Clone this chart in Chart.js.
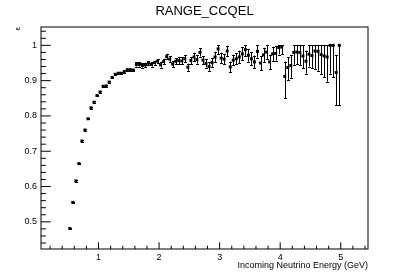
<!DOCTYPE html>
<html><head><meta charset="utf-8">
<script src="https://cdn.jsdelivr.net/npm/chart.js@4"></script>
<style>html,body{margin:0;padding:0;background:#fff;overflow:hidden}#wrap{width:409px;height:277px}</style>
</head><body><div id="wrap"><canvas id="c" width="409" height="277"></canvas></div>
<script>
const chartTitle = 'RANGE_CCQEL';
const xTitle = 'Incoming Neutrino Energy (GeV)';
const yTitle = 'ε';
const energies = [
 0.525,0.575,0.625,0.675,0.725,0.775,0.825,0.875,0.925,0.975,
 1.025,1.075,1.125,1.175,1.225,1.275,1.325,1.375,1.425,1.475,
 1.525,1.575,1.625,1.675,1.725,1.775,1.825,1.875,1.925,1.975,
 2.025,2.075,2.125,2.175,2.225,2.275,2.325,2.375,2.425,2.475,
 2.525,2.575,2.625,2.675,2.725,2.775,2.825,2.875,2.925,2.975,
 3.025,3.075,3.125,3.175,3.225,3.275,3.325,3.375,3.425,3.475,
 3.525,3.575,3.625,3.675,3.725,3.775,3.825,3.875,3.925,3.975,
 4.025,4.075,4.125,4.175,4.225,4.275,4.325,4.375,4.425,4.475,
 4.525,4.575,4.625,4.675,4.725,4.775,4.825,4.875,4.925,4.975];
const efficiency = [
 0.481,0.555,0.616,0.665,0.729,0.760,0.792,0.823,0.839,0.858,
 0.868,0.884,0.885,0.896,0.909,0.918,0.921,0.921,0.926,0.931,
 0.931,0.930,0.946,0.946,0.943,0.945,0.950,0.946,0.951,0.955,
 0.945,0.954,0.968,0.961,0.947,0.955,0.957,0.956,0.962,0.938,
 0.957,0.967,0.960,0.980,0.958,0.949,0.940,0.951,0.967,0.990,
 0.964,0.961,0.984,0.939,0.958,0.962,0.967,0.976,0.988,0.972,
 0.962,0.953,0.983,0.950,0.973,0.981,0.953,0.976,0.977,0.994,
 0.995,0.912,0.937,0.943,0.980,0.981,0.980,0.970,0.955,0.975,
 0.971,0.984,0.983,0.974,0.970,0.967,1.000,1.000,0.923,1.000];
const errLow = [
 0.002,0.002,0.002,0.002,0.002,0.002,0.002,0.002,0.002,0.002,
 0.002,0.002,0.002,0.002,0.002,0.002,0.003,0.003,0.003,0.003,
 0.003,0.003,0.006,0.006,0.006,0.006,0.006,0.006,0.006,0.006,
 0.008,0.008,0.008,0.008,0.008,0.008,0.010,0.010,0.010,0.010,
 0.010,0.012,0.012,0.012,0.012,0.012,0.012,0.012,0.015,0.015,
 0.015,0.015,0.015,0.015,0.015,0.015,0.018,0.018,0.018,0.018,
 0.018,0.018,0.018,0.020,0.020,0.020,0.020,0.020,0.020,0.020,
 0.020,0.062,0.035,0.035,0.035,0.035,0.035,0.035,0.035,0.035,
 0.035,0.050,0.055,0.055,0.060,0.070,0.080,0.090,0.092,0.170];
const errHigh = [
 0.002,0.002,0.002,0.002,0.002,0.002,0.002,0.002,0.002,0.002,
 0.002,0.002,0.002,0.002,0.002,0.002,0.003,0.003,0.003,0.003,
 0.003,0.003,0.006,0.006,0.006,0.006,0.006,0.006,0.006,0.006,
 0.008,0.008,0.008,0.008,0.008,0.008,0.010,0.010,0.010,0.010,
 0.010,0.012,0.012,0.012,0.012,0.012,0.012,0.012,0.015,0.010,
 0.015,0.015,0.015,0.015,0.015,0.015,0.018,0.018,0.012,0.018,
 0.018,0.018,0.017,0.020,0.020,0.019,0.020,0.020,0.020,0.006,
 0.005,0.042,0.030,0.030,0.020,0.019,0.020,0.030,0.030,0.025,
 0.029,0.016,0.017,0.026,0.030,0.033,0.000,0.000,0.050,0.000];
const xTicks = [1,2,3,4,5];
const yTicks = [0.5,0.6,0.7,0.8,0.9,1];

const FONT = "'Liberation Sans', Arial, Helvetica, sans-serif";

const rootFrame = {
  id: 'rootFrame',
  beforeDatasetsDraw(chart) {
    const ctx = chart.ctx, xs = chart.scales.x, ys = chart.scales.y;
    ctx.save();
    ctx.strokeStyle = '#000';
    ctx.lineWidth = 1;
    ctx.beginPath();
    for (let i = 0; i < energies.length; i++) {
      const px = Math.round(xs.getPixelForValue(energies[i])) + 0.5;
      const yTop = ys.getPixelForValue(efficiency[i] + errHigh[i]);
      const yBot = ys.getPixelForValue(efficiency[i] - errLow[i]);
      ctx.moveTo(px, yTop); ctx.lineTo(px, yBot);
      ctx.moveTo(px - 1.5, Math.round(yTop) + 0.5); ctx.lineTo(px + 1.5, Math.round(yTop) + 0.5);
      ctx.moveTo(px - 1.5, Math.round(yBot) + 0.5); ctx.lineTo(px + 1.5, Math.round(yBot) + 0.5);
    }
    ctx.stroke();
    ctx.restore();
  },
  afterDraw(chart) {
    const ctx = chart.ctx, a = chart.chartArea, xs = chart.scales.x, ys = chart.scales.y;
    ctx.save();
    ctx.strokeStyle = '#000';
    ctx.lineWidth = 1;
    ctx.strokeRect(a.left, a.top, a.right - a.left, a.bottom - a.top);
    ctx.beginPath();
    // x ticks (inside, upward)
    for (let k = 1; k <= 27; k++) {
      const v = k * 0.2;
      if (v < xs.min || v > xs.max) continue;
      const major = (k % 5 === 0);
      const px = xs.getPixelForValue(v);
      ctx.moveTo(px, a.bottom); ctx.lineTo(px, a.bottom - (major ? 6.7 : 3.3));
    }
    // y ticks (inside, rightward)
    for (let k = 22; k <= 52; k++) {
      const v = k * 0.02;
      if (v < ys.min || v > ys.max) continue;
      const major = (k % 5 === 0);
      const py = ys.getPixelForValue(v);
      ctx.moveTo(a.left, py); ctx.lineTo(a.left + (major ? 9.8 : 4.9), py);
    }
    ctx.stroke();
    ctx.fillStyle = '#000';
    ctx.font = '13px ' + FONT;
    ctx.textAlign = 'center'; ctx.textBaseline = 'alphabetic';
    ctx.fillText(chartTitle, 204.5, 14.5);
    ctx.font = '9px ' + FONT;
    ctx.textAlign = 'right';
    ctx.fillText(xTitle, a.right, 268);
    ctx.translate(20, a.top);
    ctx.rotate(-Math.PI / 2);
    ctx.font = '8px ' + FONT;
    ctx.textAlign = 'right'; ctx.textBaseline = 'alphabetic';
    ctx.fillText(yTitle, 0, 0);
    ctx.restore();
  }
};

new Chart(document.getElementById('c'), {
  type: 'scatter',
  data: {
    datasets: [{
      data: energies.map((e, i) => ({x: e, y: efficiency[i]})),
      pointStyle: 'rect',
      pointRadius: 2.1,
      pointHoverRadius: 2.1,
      backgroundColor: '#000',
      borderWidth: 0
    }]
  },
  options: {
    responsive: false,
    devicePixelRatio: 1,
    animation: false,
    events: [],
    layout: { padding: { top: 27, right: 41, left: 0, bottom: 0 } },
    plugins: { legend: { display: false }, title: { display: false }, tooltip: { enabled: false } },
    scales: {
      x: {
        type: 'linear', min: 0.05, max: 5.45,
        afterBuildTicks: s => { s.ticks = xTicks.map(v => ({value: v})); },
        afterFit: s => { s.height = 28; },
        grid: { display: false, drawTicks: false },
        border: { display: false },
        ticks: { font: { size: 9, family: FONT }, color: '#000', padding: 3, maxRotation: 0,
                 callback: v => String(v) }
      },
      y: {
        type: 'linear', min: 0.423, max: 1.052,
        afterBuildTicks: s => { s.ticks = yTicks.map(v => ({value: v})); },
        afterFit: s => { s.width = 41; },
        grid: { display: false, drawTicks: false },
        border: { display: false },
        ticks: { font: { size: 9, family: FONT }, color: '#000', padding: 4,
                 callback: v => (v === 1 ? '1' : v.toFixed(1)) }
      }
    }
  },
  plugins: [rootFrame]
});
</script>
</body></html>
